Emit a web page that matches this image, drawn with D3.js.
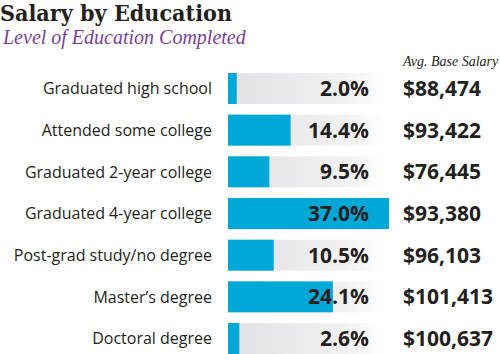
<!DOCTYPE html>
<html>
<head>
<meta charset="utf-8">
<script src="https://cdn.jsdelivr.net/npm/d3@7"></script>
<style>
  body { margin: 0; background: #fff; }
  svg { display: block; }
</style>
</head>
<body>
<div id="chart"></div>
<script>
// data
const categories = [
  "Graduated high school",
  "Attended some college",
  "Graduated 2-year college",
  "Graduated 4-year college",
  "Post-grad study/no degree",
  "Master’s degree",
  "Doctoral degree"
];
const shares = [2.0, 14.4, 9.5, 37.0, 10.5, 24.1, 2.6];
const salaries = [88474, 93422, 76445, 93380, 96103, 101413, 100637];

const width = 500, height = 354;

const svg = d3.select("#chart").append("svg")
  .attr("width", width)
  .attr("height", height);

// background gradient behind each bar
const defs = svg.append("defs");
const grad = defs.append("linearGradient").attr("id", "trackGrad");
grad.append("stop").attr("offset", "0%").attr("stop-color", "#e1e1e4");
grad.append("stop").attr("offset", "75%").attr("stop-color", "#f2f2f3");
grad.append("stop").attr("offset", "100%").attr("stop-color", "#ffffff");

// title
svg.append("text")
  .attr("x", 0).attr("y", 21)
  .attr("font-family", "DejaVu Serif")
  .attr("font-weight", "bold")
  .attr("font-size", 23)
  .attr("fill", "#231f20")
  .attr("textLength", 232)
  .attr("lengthAdjust", "spacingAndGlyphs")
  .text("Salary by Education");

svg.append("text")
  .attr("x", 3).attr("y", 44)
  .attr("font-family", "Liberation Serif")
  .attr("font-style", "italic")
  .attr("font-size", 20)
  .attr("fill", "#7b3f9a")
  .text("Level of Education Completed");

svg.append("text")
  .attr("x", 403).attr("y", 66)
  .attr("font-family", "Liberation Serif")
  .attr("font-style", "italic")
  .attr("font-size", 14)
  .attr("fill", "#231f20")
  .text("Avg. Base Salary");

// scales
const x = d3.scaleLinear().domain([0, 37]).range([228, 389]);
const y = d3.scaleBand().domain(categories).range([73, 354]).paddingInner(0.257).paddingOuter(0);

const row = svg.append("g")
  .selectAll("g")
  .data(categories)
  .join("g")
    .attr("transform", d => `translate(0,${y(d)})`);

row.append("rect")
  .attr("x", x(0))
  .attr("width", x(37) - x(0) - 4)
  .attr("height", y.bandwidth())
  .attr("fill", "url(#trackGrad)");

row.append("rect")
  .attr("x", x(0))
  .attr("width", (d, i) => x(shares[i]) - x(0))
  .attr("height", y.bandwidth())
  .attr("fill", "#00a8d8");

row.append("text")
  .attr("x", 212)
  .attr("y", y.bandwidth() / 2)
  .attr("dy", "0.36em")
  .attr("text-anchor", "end")
  .attr("font-family", "Open Sans")
  .attr("font-size", 16)
  .attr("fill", "#231f20")
  .text(d => d);

row.append("text")
  .attr("x", 369)
  .attr("y", y.bandwidth() / 2)
  .attr("dy", "0.36em")
  .attr("text-anchor", "end")
  .attr("font-family", "Open Sans")
  .attr("font-weight", "bold")
  .attr("font-size", 21)
  .attr("fill", "#231f20")
  .text((d, i) => d3.format(".1f")(shares[i]) + "%");

row.append("text")
  .attr("x", 403)
  .attr("y", y.bandwidth() / 2)
  .attr("dy", "0.36em")
  .attr("font-family", "Open Sans")
  .attr("font-weight", "bold")
  .attr("font-size", 21)
  .attr("fill", "#231f20")
  .text((d, i) => d3.format("$,")(salaries[i]));
</script>
</body>
</html>
